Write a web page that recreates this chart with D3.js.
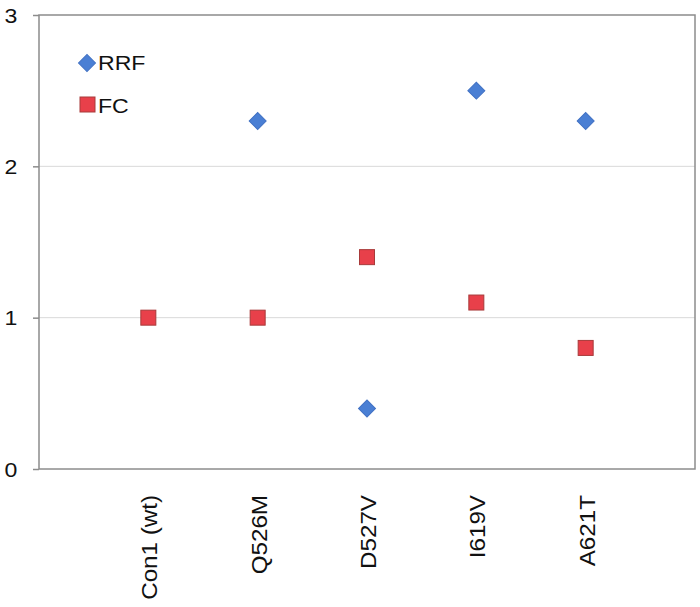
<!DOCTYPE html>
<html><head><meta charset="utf-8">
<script src="https://cdn.jsdelivr.net/npm/d3@7"></script>
<style>body{margin:0;background:#fff}svg{display:block}</style>
</head><body><svg id="c" width="700" height="607"></svg>
<script>
const categories = ["Con1 (wt)", "Q526M", "D527V", "I619V", "A621T"];
const rrf = [null, 2.3, 0.4, 2.5, 2.3];
const fc = [1.0, 1.0, 1.4, 1.1, 0.8];
const yTicks = [0, 1, 2, 3];
const seriesNames = ["RRF", "FC"];

const svg = d3.select("#c");
const L = 39, R = 695, T = 15, B = 469;
const x = d3.scalePoint().domain(categories).range([L, R]).padding(1);
const y = d3.scaleLinear().domain([0, 3]).range([B, T]);
const font = "'Liberation Sans', Arial, sans-serif";
const SX = 1.1;

// gridlines
svg.append("g").selectAll("line").data(yTicks.filter(d => d > 0 && d < 3)).join("line")
  .attr("x1", L).attr("x2", R).attr("y1", d => y(d)).attr("y2", d => y(d))
  .attr("stroke", "#d9d9d9").attr("stroke-width", 1);

// frame
svg.append("rect").attr("x", L).attr("y", T).attr("width", R - L).attr("height", B - T)
  .attr("fill", "none").attr("stroke", "#8c8c8c").attr("stroke-width", 1.5);

// y axis
const yAxis = d3.axisLeft(y).tickValues(yTicks).tickFormat(d3.format("d")).tickSize(6).tickPadding(0);
const ya = svg.append("g").attr("transform", `translate(${L},0)`).call(yAxis);
ya.select(".domain").remove();
ya.selectAll(".tick line").attr("stroke", "#8c8c8c").attr("stroke-width", 1.5);
ya.selectAll(".tick text").attr("x", null).attr("dy", null).attr("text-anchor", "middle")
  .attr("transform", `translate(-28,7) scale(${SX},1)`)
  .attr("font-family", font).attr("font-size", 21).attr("fill", "#111");

// x labels
svg.append("g").selectAll("text").data(categories).join("text")
  .attr("transform", d => `translate(${x(d) + 9},${B + 26}) rotate(-90) scale(${SX},1)`)
  .attr("text-anchor", "end").attr("font-family", font).attr("font-size", 22).attr("fill", "#111")
  .text(d => d);

const drawDiamond = (sel) => sel.attr("d", d3.symbol().type(d3.symbolSquare).size(144))
  .attr("fill", "#4a7fd4").attr("stroke", "#4272c4").attr("stroke-width", 1);
const drawSquare = (sel) => sel.attr("width", 15).attr("height", 15)
  .attr("fill", "#e8404a").attr("stroke", "#a83a3a").attr("stroke-width", 1);

// RRF
svg.append("g").selectAll("path").data(categories.filter((d, i) => rrf[i] != null)).join("path")
  .attr("transform", d => `translate(${x(d)},${y(rrf[categories.indexOf(d)])}) rotate(45)`)
  .call(drawDiamond);

// FC
svg.append("g").selectAll("rect").data(categories).join("rect")
  .attr("x", d => x(d) - 7.5).attr("y", (d, i) => y(fc[i]) - 7.5)
  .call(drawSquare);

// legend
const lg = svg.append("g");
lg.append("path").attr("transform", "translate(87,63) rotate(45)").call(drawDiamond);
lg.append("text").attr("transform", `translate(98,70) scale(${SX},1)`).attr("font-family", font).attr("font-size", 21).attr("fill", "#111").text(seriesNames[0]);
lg.append("rect").attr("x", 80).attr("y", 97).call(drawSquare);
lg.append("text").attr("transform", `translate(98,113) scale(${SX},1)`).attr("font-family", font).attr("font-size", 21).attr("fill", "#111").text(seriesNames[1]);
</script></body></html>
